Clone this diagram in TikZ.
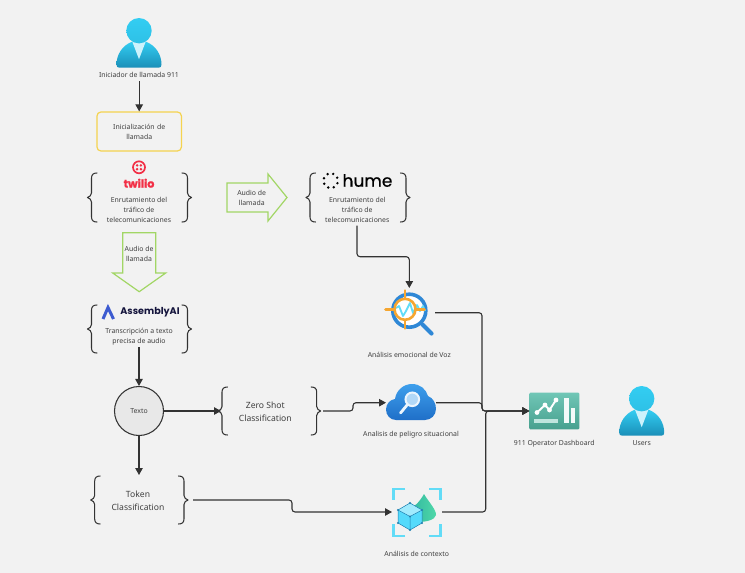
\documentclass[tikz,border=0pt]{standalone}
\usepackage{fontspec}
\setmainfont{Noto Sans}
\newfontfamily\logofont[BoldFeatures={FakeBold=1.4}]{Poppins}
\newfontfamily\asmfont{Poppins}
\newfontfamily\humefont[FakeBold=0.5]{Poppins}
\usetikzlibrary{arrows.meta}
\definecolor{bgc}{HTML}{F2F2F2}
\definecolor{inkc}{HTML}{333333}
\definecolor{txtc}{HTML}{404040}
\definecolor{greenc}{HTML}{A2D665}
\definecolor{yellowc}{HTML}{F5D34F}
\definecolor{redc}{HTML}{F22F46}
\definecolor{navyc}{HTML}{14143C}
\definecolor{asmc}{HTML}{3D5BD0}
\definecolor{blue1}{HTML}{3E9FEC}
\definecolor{blue2}{HTML}{1F6FC8}
\definecolor{ringc}{HTML}{2F88D6}
\definecolor{orangec}{HTML}{F5A631}
\definecolor{cyanc}{HTML}{62DCF7}
\definecolor{personA}{HTML}{33CDF2}
\definecolor{personB}{HTML}{1A8FB8}
\definecolor{tealA}{HTML}{70C6B6}
\definecolor{tealB}{HTML}{47A08E}
\definecolor{coneA}{HTML}{2FB5A0}
\definecolor{coneB}{HTML}{4FD8A8}
\definecolor{cubec}{HTML}{55DAFB}
\definecolor{cubed}{HTML}{1F7FB0}
\tikzset{
  x=1pt,y=-1pt,
  lbl/.style={text=txtc,font=\fontsize{6.9}{10}\selectfont,align=center,inner sep=0pt},
  lblbig/.style={text=txtc,font=\fontsize{8.6}{12.8}\selectfont,align=center,inner sep=0pt},
  conn/.style={draw=inkc,line width=1.1pt,rounded corners=3pt,-{Triangle[length=7pt,width=7.5pt]}},
  brc/.style={draw=inkc,line width=1.05pt,line cap=round,line join=round},
  fatarrow/.style={draw=greenc,line width=1.2pt,fill=none,line join=miter},
  anch/.style={inner sep=0pt,outer sep=0pt,draw=none,fill=none},
}
\newcommand{\anchorbox}[5]{\node[anch,minimum width=#4pt-#2pt,minimum height=#5pt-#3pt] (#1) at ({(#2+#4)/2},{(#3+#5)/2}) {};}
\newcommand{\bracepair}[4]{%
  \pgfmathsetmacro{\ym}{(#3+#4)/2}%
  \draw[brc] ({#1+9.5},#3) .. controls ({#1+6},#3) and ({#1+4},{#3+1.5}) .. ({#1+4},{#3+5}) -- ({#1+4},{\ym-4.5}) .. controls ({#1+4},{\ym-2}) and ({#1+2},{\ym-0.8}) .. (#1,\ym) .. controls ({#1+2},{\ym+0.8}) and ({#1+4},{\ym+2}) .. ({#1+4},{\ym+4.5}) -- ({#1+4},{#4-5}) .. controls ({#1+4},{#4-1.5}) and ({#1+6},#4) .. ({#1+9.5},#4);
  \draw[brc] ({#2-9.5},#3) .. controls ({#2-6},#3) and ({#2-4},{#3+1.5}) .. ({#2-4},{#3+5}) -- ({#2-4},{\ym-4.5}) .. controls ({#2-4},{\ym-2}) and ({#2-2},{\ym-0.8}) .. (#2,\ym) .. controls ({#2-2},{\ym+0.8}) and ({#2-4},{\ym+2}) .. ({#2-4},{\ym+4.5}) -- ({#2-4},{#4-5}) .. controls ({#2-4},{#4-1.5}) and ({#2-6},#4) .. ({#2-9.5},#4);
}
\newcommand{\personicon}[2]{%
  \begin{scope}[shift={(#1,#2)}]
    \shade[top color=personA,bottom color=personB,draw=none] (-19.5,37) .. controls (-21.5,37) and (-22.5,36) .. (-22.5,34) .. controls (-22.5,24) and (-17,15) .. (-7,11) -- (7,11) .. controls (17,15) and (22.5,24) .. (22.5,34) .. controls (22.5,36) and (21.5,37) .. (19.5,37) -- cycle;
    \fill[fill=white!75!personA] (-6.5,11.5) -- (6.5,11.5) -- (0,28.5) -- cycle;
    \shade[top color=personA,bottom color=personA!80!personB] (0,0) circle (12.7);
  \end{scope}}
\begin{document}
\begin{tikzpicture}
\path[use as bounding box,fill=bgc] (0,0) rectangle (745,573);

% --- icons
\personicon{139}{30.7}
\personicon{641.7}{398.7}

% twilio
\draw[redc,line width=1.7pt] (139,167.3) circle (6);
\foreach \dx in {-1.9,1.9}\foreach \dy in {-1.9,1.9}\fill[redc] ({139+\dx},{167.3+\dy}) circle (1.4);
\node[anch,text=redc,font=\logofont\bfseries\fontsize{11}{12}\selectfont] (twiliologo) at (139,183.2) {twilio};

% assembly
\draw[asmc,line width=3pt,line join=miter] (103,319) -- (108,307.5) -- (113.5,319);
\node[anch,text=navyc,font=\asmfont\bfseries\fontsize{9.6}{10}\selectfont] (asmlogo) at (150,312) {AssemblyAI};

% hume
\foreach \a in {20,65,110,155,200,245,290,335}\fill[black] ({330.7+7.2*cos(\a)},{180.7+7.2*sin(\a)}) circle (1.35);
\node[anch,text=black,font=\humefont\fontsize{17}{18}\selectfont] (humelogo) at (367.5,180.5) {hume};

% voice analysis icon
\draw[ringc,line width=4.2pt,line cap=round] (422.5,324.5) -- (431.5,333.5);
\fill[white] (409.3,310.7) circle (16.5);
\draw[ringc,line width=3.6pt] (409.3,310.7) circle (16.5);
\draw[cyanc,line width=1.8pt,line join=round] (396,308) -- (399,306) -- (403,316) -- (406,311) -- (410,303) -- (413,313) -- (417,305) -- (420,311) -- (423,306) -- (425,311);
\draw[orangec,line width=2.6pt] (405,309.3) circle (10.5);
\draw[orangec,line width=2.6pt,line cap=round] (385.5,309.3) -- (394.5,309.3) (415.5,309.3) -- (424.5,309.3) (405,290.5) -- (405,298.8) (405,319.8) -- (405,328.5);

% cloud icon
\shade[top color=blue1,bottom color=blue2] (396,420) .. controls (390,420) and (386,415) .. (386,409.5) .. controls (386,404) and (390,399.5) .. (395,399) .. controls (396,391) and (403,384) .. (412,384) .. controls (420,384) and (426,389) .. (428,396) .. controls (433,398) and (436,403) .. (436,409) .. controls (436,415) and (431,420) .. (425,420) -- cycle;
\fill[white!60!blue1] (412.3,399.3) circle (6.5);
\draw[white!90!blue1,line width=2pt] (412.3,399.3) circle (6.8);
\draw[white!90!blue1,line width=2.8pt,line cap=round] (407.5,404.5) -- (400.5,413);

% dashboard icon
\shade[top color=tealA,bottom color=tealB,rounded corners=1pt] (529.3,392.7) rectangle (579.3,429.3);
\fill[white!92!tealA] (564,397.7) rectangle (569,423);
\fill[white!92!tealA] (570.7,408) rectangle (575,423);
\fill[white!55!tealA] (534,418.7) rectangle (558.3,423.3);
\draw[white,line width=1.9pt,line join=round] (537,412.5) -- (545,405) -- (549.5,410) -- (556,400);
\foreach \p in {(537,412.5),(545,405),(549.5,410),(556,400)}\fill[white] \p circle (2.4);

% context icon
\shade[left color=coneA,right color=coneB] (424,494) .. controls (428,501) and (436.5,510) .. (436,515) .. controls (435,520) and (426,522) .. (418,522) -- (408,510) .. controls (415,507) and (420,501) .. (424,494) -- cycle;
\fill[cubec] (410,503) -- (422,510) -- (422,523) -- (410,530) -- (398,523) -- (398,510) -- cycle;
\fill[white!45!cubec] (410,503) -- (422,510) -- (410,516.5) -- (398,510) -- cycle;
\draw[cubed,line width=.5pt] (410,503) -- (422,510) -- (422,523) -- (410,530) -- (398,523) -- (398,510) -- cycle (398,510) -- (410,516.5) -- (422,510) (410,516.5) -- (410,530);
\foreach \p in {(410,503),(422,510),(422,523),(410,530),(398,523),(398,510),(410,516.5)}\fill[cubed] \p circle (1.1);
\draw[cyanc,line width=2.8pt] (405,489) -- (393.7,489) -- (393.7,500);
\draw[cyanc,line width=2.8pt] (429,489) -- (440.7,489) -- (440.7,500);
\draw[cyanc,line width=2.8pt] (405,536) -- (393.7,536) -- (393.7,524);
\draw[cyanc,line width=2.8pt] (429,536) -- (440.7,536) -- (440.7,524);

% --- anchor boxes for connectors
\anchorbox{callerlab}{100}{60}{178}{81}
\anchorbox{asmB}{97}{305}{181}{347}
\anchorbox{humeB}{315}{173}{399}{225.6}
\anchorbox{zeroB}{221}{387}{323}{435}
\anchorbox{tokenB}{95}{475}{193}{524}
\anchorbox{voiceI}{385}{288}{435}{336}
\anchorbox{cloudI}{386}{384}{436}{420}
\anchorbox{ctxI}{392}{488}{442}{536}
\anchorbox{dashI}{529.3}{392.7}{579.3}{429.3}
\coordinate (humebend) at (0,256.7);
\coordinate (zeroin) at (353,402.7);
\coordinate (tokbend) at (292,500);
\coordinate (mergeA) at (482,0);
\coordinate (mergeB) at (485.7,0);
\coordinate (voiceout) at (435,312.7);
\coordinate (cloudout) at (436,402.7);

% --- shapes
\node[draw=yellowc,line width=1.2pt,rounded corners=4pt,minimum width=84.5pt,minimum height=39pt,inner sep=0pt,lbl,text width=80pt] (init) at (139.2,131.5) {Inicialización de\\llamada};
\draw[fatarrow] (227,183) -- (268,183) -- (268,174) -- (287,197.5) -- (268,221) -- (268,212) -- (227,212) -- cycle;
\draw[fatarrow] (122.7,232.7) -- (155.7,232.7) -- (155.7,273) -- (165.7,273) -- (139.2,291.7) -- (112.7,273) -- (122.7,273) -- cycle;
\node[circle,draw=inkc,line width=1.05pt,fill=black!9,minimum size=49pt,inner sep=0pt,text=txtc,font=\fontsize{6.9}{8}\selectfont] (texto) at (139,411) {Texto};

\bracepair{87.5}{191.5}{173}{222}
\bracepair{87.5}{191.5}{305}{353}
\bracepair{306}{410}{173}{222}
\bracepair{218}{320.7}{387}{435}
\bracepair{90.7}{188}{476}{524}

% --- labels
\node[lbl] (callertxt) at (139,75) {Iniciador de llamada 911};
\node[lbl] (twiliotxt) at (139,210.3) {Enrutamiento del\\tráfico de\\telecomunicaciones};
\node[lbl] (audiodown) at (139,253.7) {Audio de\\llamada};
\node[lbl] (audioright) at (251.7,197.7) {Audio de\\llamada};
\node[lbl] (humetxt) at (357.3,210.3) {Enrutamiento del\\tráfico de\\telecomunicaciones};
\node[lbl] (asmtxt) at (139,336.7) {Transcripción a texto\\precisa de audio};
\node[lblbig] (zerotxt) at (265.3,411.5) {Zero Shot\\Classification};
\node[lblbig] (tokentxt) at (138,500.7) {Token\\Classification};
\node[lbl] (voicetxt) at (409.3,355.3) {Análisis emocional de Voz};
\node[lbl] (cloudtxt) at (411,435) {Analisis de peligro situacional};
\node[lbl] (dashtxt) at (554.3,443.3) {911 Operator Dashboard};
\node[lbl] (userstxt) at (641.7,443.3) {Users};
\node[lbl] (ctxtxt) at (416.7,554.3) {Análisis de contexto};

% --- connectors
\draw[conn] (init.north |- callerlab.south) -- (init.north);
\draw[conn] (texto.north |- asmB.south) -- (texto.north);
\draw[conn] (texto.east) -- (zeroB.west |- texto.east);
\draw[conn] (texto.south) -- (texto.south |- tokenB.north);
\draw[conn] (humeB.south) -- (humeB.south |- humebend) -- ([xshift=-.7pt]voiceI.north |- humebend) -- ([xshift=-.7pt]voiceI.north);
\draw[conn] (zeroB.east) -- (zeroin |- zeroB.east) -- (zeroin) -- (cloudI.west |- zeroin);
\draw[conn] (tokenB.east |- tokbend) -- (tokbend) -- (tokbend |- ctxI.east) -- (ctxI.west);
\draw[conn] (voiceout) -- (mergeA |- voiceout) -- (mergeA |- dashI.west) -- (dashI.west);
\draw[conn] (cloudout) -- (mergeA |- cloudout) -- (mergeA |- dashI.west) -- (dashI.west);
\draw[conn] (ctxI.east) -- (mergeB |- ctxI.east) -- (mergeB |- dashI.west) -- (dashI.west);
\end{tikzpicture}
\end{document}
